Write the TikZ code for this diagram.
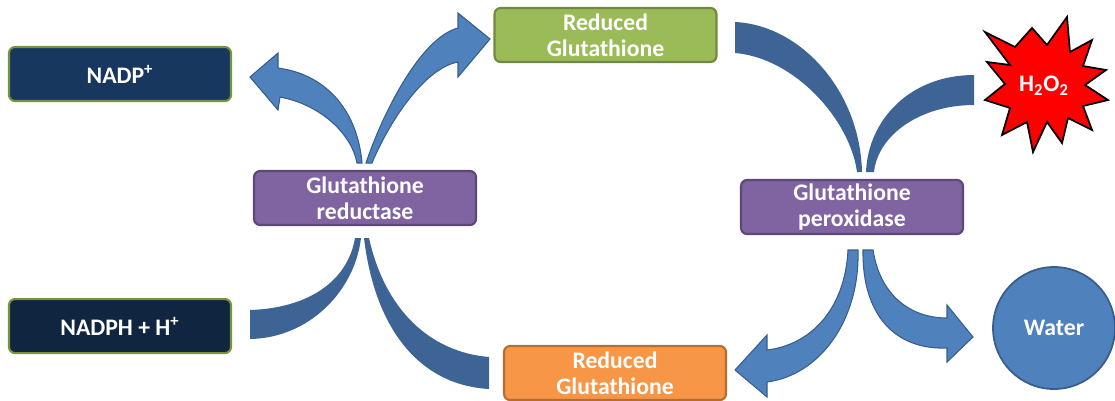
\documentclass[tikz,border=0pt]{standalone}
\usepackage{fontspec}
\setmainfont{Carlito}
\usepackage{xcolor}
\usepackage{tikz}
\usetikzlibrary{positioning}
\definecolor{navyfill}{HTML}{17375E}
\definecolor{navydark}{HTML}{10253F}
\definecolor{olivebd}{HTML}{77933C}
\definecolor{purpfill}{HTML}{8064A2}
\definecolor{purpbd}{HTML}{5C4776}
\definecolor{greenfill}{HTML}{9BBB59}
\definecolor{greenbd}{HTML}{71893F}
\definecolor{orangefill}{HTML}{F79646}
\definecolor{orangebd}{HTML}{B66D31}
\definecolor{arrowfill}{HTML}{4F81BD}
\definecolor{arrowbd}{HTML}{385D8A}
\definecolor{feedfill}{HTML}{3E6496}
\tikzstyle{box}=[rectangle, rounded corners=0.12cm, line width=1.2pt, text=white, align=center,
        font=\bfseries\fontsize{13.5}{15}\selectfont, minimum width=4.44cm, minimum height=1.08cm, inner sep=0pt]
\tikzstyle{cofactor}=[box, fill=navyfill, draw=olivebd]
\tikzstyle{enzyme}=[box, fill=purpfill, draw=purpbd]
\tikzstyle{reduced}=[box]
\tikzstyle{bent}=[fill=arrowfill, draw=arrowbd, line width=0.6pt, line join=miter]
\tikzstyle{feed}=[fill=feedfill]

\begin{document}
\begin{tikzpicture}[x=0.02cm, y=-0.02cm]
    \useasboundingbox (0,0) rectangle (1115,400);
    \node (NADP) [cofactor] at (120,74) {NADP\textsuperscript{+}};
    \node (NADPH) [cofactor, fill=navydark, below=3.92cm of NADP] {NADPH + H\textsuperscript{+}};
    \node (Reductase) [enzyme] at (365,198) {Glutathione\\reductase};
    \node (GSHtop) [reduced, fill=greenfill, draw=greenbd] at (605.5,35) {Reduced\\Glutathione};
    \node (GSHbot) [reduced, fill=orangefill, draw=orangebd] at (615,373) {Reduced\\Glutathione};
    \node (Peroxidase) [enzyme] at (852,207) {Glutathione\\peroxidase};
    \node (Water) [circle, fill=arrowfill, draw=arrowbd, line width=1pt, minimum size=2.44cm,
        text=white, font=\bfseries\fontsize{13.5}{15}\selectfont] at (1054,328) {Water};
    % the burst round H2O2
    \filldraw[fill=red, draw=black, line width=1pt, line join=miter]
        (985,32) -- (1015,47) -- (1032,28) -- (1047,45) -- (1067,17) -- (1070,52)
        -- (1092,40) -- (1083,66) -- (1106,70) -- (1085,85) -- (1108,100) -- (1083,106)
        -- (1092,130) -- (1068,118) -- (1062,143) -- (1047,122) -- (1033,152) -- (1027,122)
        -- (1002,135) -- (1010,108) -- (985,100) -- (1005,84) -- (987,62) -- (1010,65) -- cycle;
    \node (H2O2) [text=white, font=\bfseries\fontsize{13.5}{15}\selectfont] at (1044,86)
        {H\textsubscript{2}O\textsubscript{2}};

    % substrates coming in
    \fill[feed] (735,22) .. controls (800,25) and (860,90) .. (862,172) -- (857,172)
        .. controls (850,120) and (795,58) .. (735,53) -- cycle;
    \fill[feed] (974,75) .. controls (910,75) and (868,120) .. (866,172) -- (874,172)
        .. controls (878,135) and (920,105) .. (974,105) -- cycle;
    \fill[feed] (250,310) .. controls (310,308) and (348,280) .. (355,238) -- (361,238)
        .. controls (355,290) and (310,338) .. (250,339) -- cycle;
    \fill[feed] (364,238) .. controls (375,330) and (420,385) .. (489,389) -- (489,357)
        .. controls (430,352) and (385,310) .. (369,238) -- cycle;

    % products going out
    \filldraw[bent] (357,163) .. controls (352,135) and (322,105) .. (280,97) -- (278,110)
        -- (250,77) -- (278,53) -- (278,68) .. controls (330,75) and (358,115) .. (362,163) -- cycle;
    \filldraw[bent] (366,163) .. controls (382,115) and (420,38) .. (458,28) -- (458,13)
        -- (490,39) -- (458,77) -- (458,62) .. controls (425,68) and (390,120) .. (372,163) -- cycle;
    \filldraw[bent] (848,250) .. controls (845,310) and (810,345) .. (767,350) -- (767,335)
        -- (735,370) -- (767,397) -- (767,382) .. controls (820,375) and (860,320) .. (858,250) -- cycle;
    \filldraw[bent] (873,250) .. controls (880,295) and (910,318) .. (947,318) -- (947,305)
        -- (973,337) -- (947,362) -- (947,348) .. controls (895,350) and (862,315) .. (863,250) -- cycle;
\end{tikzpicture}
\end{document}
